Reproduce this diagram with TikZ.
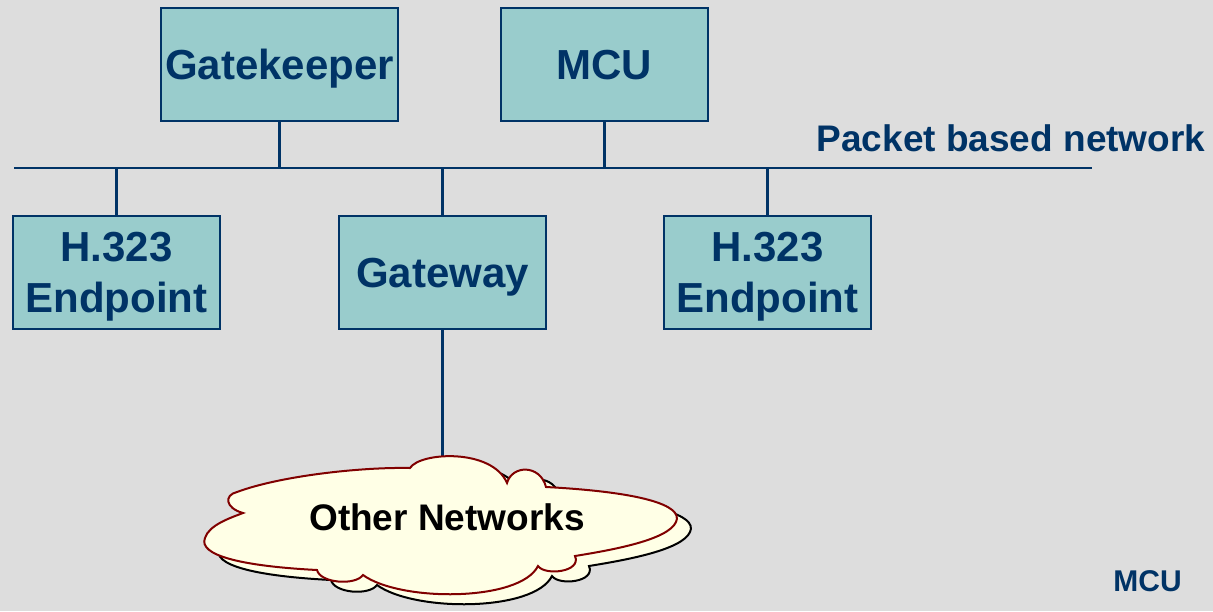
\documentclass[tikz,border=0pt]{standalone}
\usepackage{fontspec}
\setmainfont{Liberation Sans}
\definecolor{navy}{HTML}{003366}
\definecolor{boxfill}{HTML}{99CCCC}
\definecolor{bg}{HTML}{DDDDDD}
\definecolor{cloudfill}{HTML}{FFFFE6}
\definecolor{cloudline}{HTML}{800000}
\tikzset{
  unit/.style={rectangle, draw=navy, fill=boxfill, line width=2.5pt,
    text=navy, font=\fontsize{42}{51}\selectfont\bfseries, align=center,
    inner sep=0pt, text depth=0pt},
  wire/.style={draw=navy, line width=2.5pt},
  label/.style={text=navy, font=\bfseries, inner sep=0pt},
}
% irregular cloud outline, in pixel units (y grows downward)
\newcommand{\cloudpath}{%
  (237,492) .. controls (280,476) and (360,467) .. (410,468)
  .. controls (420,452) and (492,448) .. (507,483)
  .. controls (512,465) and (540,464) .. (546,487)
  .. controls (640,492) and (684,505) .. (676,522)
  .. controls (668,540) and (612,550) .. (575,556)
  .. controls (582,572) and (545,576) .. (538,566)
  .. controls (520,602) and (400,602) .. (363,575)
  .. controls (355,586) and (320,583) .. (317,570)
  .. controls (240,566) and (198,555) .. (205,538)
  .. controls (209,525) and (230,518) .. (243,513)
  .. controls (225,508) and (224,495) .. (237,492) -- cycle}
\begin{document}
\begin{tikzpicture}[x=1pt, y=-1pt]
  \fill[bg] (0,0) rectangle (1213,611);
  \useasboundingbox (0,0) rectangle (1213,611);

  % bus
  \coordinate (busL) at (14,168);
  \coordinate (busR) at (1092,168);
  \draw[wire] (busL) -- (busR);

  % units
  \node[unit, minimum width=237pt, minimum height=113pt] (gk) at (279.5,64.5) {Gatekeeper};
  \node[unit, minimum width=207pt, minimum height=113pt] (mcu) at (604.5,64.5) {MCU};
  \node[unit, minimum width=207pt, minimum height=113pt] (ep1) at (116.5,272.5) {H.323\\Endpoint};
  \node[unit, minimum width=207pt, minimum height=113pt] (gw) at (442.5,272.5) {Gateway};
  \node[unit, minimum width=207pt, minimum height=113pt] (ep2) at (767.5,272.5) {H.323\\Endpoint};

  % stubs to the bus
  \draw[wire] (gk.south) -- (gk.south |- busL);
  \draw[wire] (mcu.south) -- (mcu.south |- busL);
  \draw[wire] (ep1.north) -- (ep1.north |- busL);
  \draw[wire] (gw.north) -- (gw.north |- busL);
  \draw[wire] (ep2.north) -- (ep2.north |- busL);

  % gateway to the other networks
  \coordinate (cloudtop) at (gw.south |- {(0,470)});
  \draw[wire] (gw.south) -- (cloudtop);

  % layered cloud
  \begin{scope}[shift={(14,10)}]
    \filldraw[fill=cloudfill, draw=black, line width=2pt] \cloudpath;
  \end{scope}
  \filldraw[fill=cloudfill, draw=cloudline, line width=2pt] \cloudpath;
  \node[inner sep=0pt, font=\fontsize{37}{44}\selectfont\bfseries] (other) at (447,517) {Other Networks};

  % labels
  \node[label, font=\fontsize{37}{44}\selectfont\bfseries] (pbn) at (1011,138) {Packet based network};
  \node[label, font=\fontsize{30}{36}\selectfont\bfseries] (mculbl) at (1147.5,581) {MCU};
\end{tikzpicture}
\end{document}
